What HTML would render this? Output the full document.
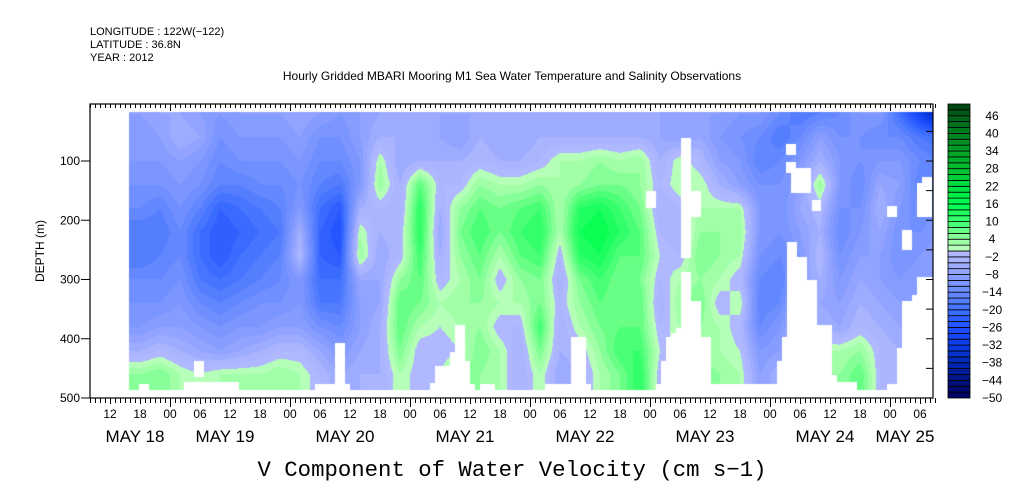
<!DOCTYPE html>
<html><head><meta charset="utf-8"><style>
body{margin:0;background:#fff;}
#wrap{position:relative;width:1009px;height:504px;overflow:hidden;font-family:"Liberation Sans",sans-serif;}
svg text{font-family:"Liberation Sans",sans-serif;}
</style></head><body>
<div id="wrap">
<canvas id="cv" width="1009" height="504" style="position:absolute;left:0;top:0"></canvas>
<svg id="sv" width="1009" height="504" style="position:absolute;left:0;top:0"></svg>
</div>
<script>
// time axis: hours since May 18 08:00
const colHours = [];
for (let i = 0; i < 41; i++) colHours.push(10 + 4 * i);
const rowDepths = [20,60,100,140,180,220,260,300,340,380,420,460];
// values per column (cm/s), listed by depth rows
const v00=[-8,-10,-10,-12,-14,-18,-18,-14,-12,-10,-4,4];
const v01=[-6,-8,-10,-12,-16,-18,-16,-14,-12,-8,-2,6];
const v02=[-6,-4,-8,-10,-12,-14,-14,-12,-10,-8,-4,2];
const v03=[-8,-6,-10,-12,-16,-20,-20,-18,-14,-10,-6,0];
const v04=[-10,-12,-14,-16,-22,-24,-24,-20,-16,-12,-8,2];
const v05=[-8,-10,-12,-16,-20,-22,-20,-18,-14,-10,-6,2];
const v06=[-8,-10,-12,-14,-18,-20,-18,-16,-12,-10,-4,2];
const v07=[-8,-10,-12,-14,-16,-18,-16,-14,-12,-8,-2,4];
const v08=[-6,-8,-10,-12,-10,-4,-2,-10,-10,-8,-2,2];
const v09=[-8,-12,-14,-16,-20,-22,-22,-20,-18,-12,-6,-2];
const v10=[-10,-12,-14,-18,-24,-26,-24,-20,-18,-14,-10,-6];
const v11=[-8,-8,-10,-10,-4,2,4,-6,-8,-8,-6,-4];
const v12=[-6,-4,2,4,-2,-4,-6,-6,-6,-4,-4,-4];
const v13=[-6,-4,-6,-4,-4,-2,-2,4,8,8,6,2];
const v14=[-4,-4,-4,8,12,12,10,8,6,2,-2,-2];
const v15=[-6,-6,-4,-2,-4,-6,-4,-2,2,0,-2,0];
const v16=[-6,-8,-4,-2,4,6,4,2,4,2,0,6];
const v17=[-6,-4,-2,4,8,10,8,6,4,4,6,4];
const v18=[-6,-6,-4,2,6,6,2,-2,2,-2,2,2];
const v19=[-4,-6,-4,2,8,10,8,4,2,-2,-4,-4];
const v20=[-6,-4,-2,4,10,12,10,6,6,10,6,2];
const v21=[-4,-4,2,2,2,2,-2,-4,-2,-4,-4,-6];
const v22=[-6,-4,2,4,12,14,12,6,4,2,-2,-4];
const v23=[-6,-4,4,6,14,16,14,10,8,6,4,2];
const v24=[-6,-4,2,6,10,12,8,6,6,8,10,6];
const v25=[-6,-4,4,4,6,8,8,6,8,8,10,12];
const v26=[-6,-6,-4,-2,-4,-2,0,-2,-4,-2,0,-2];
const v27=[-8,-8,2,2,-2,-4,-2,2,4,2,0,0];
const v28=[-8,-6,-2,2,2,4,6,4,6,4,2,6];
const v29=[-8,-10,-8,-4,2,4,4,2,-2,2,2,4];
const v30=[-10,-12,-10,-8,2,4,2,-2,2,-2,0,2];
const v31=[-10,-14,-16,-12,-10,-10,-12,-14,-16,-14,-10,-8];
const v32=[-14,-18,-14,-12,-12,-12,-14,-16,-14,-10,-8,-4];
const v33=[-18,-14,-10,-8,-6,-8,-10,-8,-4,-2,2,2];
const v34=[-16,-8,-4,4,-2,-4,-2,-4,-6,-4,2,4];
const v35=[-14,-12,-10,-10,-12,-14,-12,-10,-8,-6,2,4];
const v36=[-10,-12,-12,-14,-12,-10,-8,-6,-4,-2,4,8];
const v37=[-10,-14,-10,-6,-4,-6,-8,-8,-6,-4,-2,-2];
const v38=[-20,-14,-10,-8,-10,-12,-12,-10,-8,-6,-4,-4];
const v39=[-30,-18,-14,-16,-14,-12,-10,-8,-8,-8,-6,-6];
const v40=[-40,-20,-16,-14,-12,-10,-8,-8,-8,-8,-8,-8];
const values=[v00,v01,v02,v03,v04,v05,v06,v07,v08,v09,v10,v11,v12,v13,v14,v15,v16,v17,v18,v19,v20,v21,v22,v23,v24,v25,v26,v27,v28,v29,v30,v31,v32,v33,v34,v35,v36,v37,v38,v39,v40];
// missing data: [hourStart, hourEnd, depthTop, depthBottom]
const missing=[[9.8,11.8,476,500],[20.8,22.8,438,465],[18.8,29.8,473,500],[45,52,476,500],[49,51,407,500],
[68,69,475,500],[69,72,446,500],[72,73,422,500],[73,75,377,500],[75,76,438,500],[76,77,476,500],[78,81,476,500],
[91,96.2,476,500],[96.2,99.2,397,500],[99.2,100.2,476,500],[111.2,113.2,151,179],
[113.2,114.2,476,500],[114.2,115.2,438,500],[115.2,116.2,397,500],[116.2,117.2,390,500],[117.2,118.2,382,500],
[118.2,120.2,61,264],[118.2,120.2,288,500],[120.2,122.2,151,195],[120.2,122.2,336,500],[122.2,124.2,397,500],
[124.2,136.4,476,500],[136.4,137.4,476,500],[137.4,138.4,438,500],[138.4,139.4,397,500],[139.4,141.4,237,500],
[141.4,143.4,262,500],[143.4,145.4,301,500],[145.4,148.4,377,500],[148.4,149.4,461,500],[149.4,153.4,473,500],
[159.4,161.4,476,500],[161.4,162.4,416,500],[162.4,164.4,336,500],[164.4,165.4,326,500],[165.4,170,296,500],
[139.2,141.2,71,90],[139.2,141.2,102,120],[140.2,144.2,112,154],[144.4,146.2,166,184],[159.4,161.4,176,195],
[162.4,164.4,216,250],[165.4,167.4,137,195],[166.4,168.4,127,195]];
const dataStartHour=7.8, dataTopDepth=18, dataBottomDepth=486;
const cbLabels=[46,40,34,28,22,16,10,4,-2,-8,-14,-20,-26,-32,-38,-44,-50];
const yTicks=[100,200,300,400,500];
const hourLabels=["12","18","00","06","12","18","00","06","12","18","00","06","12","18","00","06","12","18","00","06","12","18","00","06","12","18","00","06","12","18","00","06","12","18","00","06","12","18","00","06","12","18","00","06"];
const dayNames=["MAY 18","MAY 19","MAY 20","MAY 21","MAY 22","MAY 23","MAY 24","MAY 25"];
const dayHours=[9,27,51,75,99,123,147,163];

const PL=90,PR=933,PT=104,PB=398;
const xOf=h=>PL+5*h;
const yOf=d=>101.75+0.5925*d;
const anchors=[[-50,[0,0,90]],[-44,[0,18,128]],[-38,[0,40,180]],[-32,[10,60,230]],[-26,[30,80,255]],[-20,[64,112,255]],[-14,[106,140,255]],[-8,[140,160,255]],[-2,[176,184,255]],[0,[176,184,255]],
[0.01,[192,255,192]],[4,[150,255,160]],[10,[60,255,110]],[16,[0,255,80]],[22,[0,224,64]],[28,[0,192,48]],[34,[0,160,40]],[40,[0,128,32]],[46,[0,96,24]],[50,[0,64,16]]];
function cmap(v){
  let lv=Math.floor((v+50)/2); lv=Math.max(0,Math.min(49,lv));
  const c=-50+lv*2+1;
  for(let i=0;i<anchors.length-1;i++){const a=anchors[i],b=anchors[i+1];
    if(c>=a[0]&&c<=b[0]){const t=(c-a[0])/(b[0]-a[0]);return a[1].map((x,k)=>Math.round(x+(b[1][k]-x)*t));}}
  return anchors[anchors.length-1][1];
}
function interp(h,d){
  let fi=(h-colHours[0])/(colHours[1]-colHours[0]);fi=Math.max(0,Math.min(colHours.length-1,fi));
  let fj=(d-rowDepths[0])/(rowDepths[1]-rowDepths[0]);fj=Math.max(0,Math.min(rowDepths.length-1,fj));
  const i0=Math.floor(fi),i1=Math.min(colHours.length-1,i0+1),j0=Math.floor(fj),j1=Math.min(rowDepths.length-1,j0+1);
  const ti=fi-i0,tj=fj-j0;
  const a=values[i0][j0]*(1-tj)+values[i0][j1]*tj, b=values[i1][j0]*(1-tj)+values[i1][j1]*tj;
  return a*(1-ti)+b*ti;
}
const cv=document.getElementById('cv'),ctx=cv.getContext('2d');
ctx.fillStyle='#fff';ctx.fillRect(0,0,1009,504);
const img=ctx.getImageData(0,0,1009,504);
for(let y=PT;y<PB;y++){const d=(y+0.5-101.75)/0.5925;
  if(d<dataTopDepth||d>dataBottomDepth)continue;
  for(let x=PL;x<PR;x++){const h=(x+0.5-PL)/5;
    if(h<dataStartHour)continue;
    let miss=false;for(const m of missing){if(h>=m[0]&&h<m[1]&&d>=m[2]&&d<m[3]){miss=true;break;}}
    if(miss)continue;
    const c=cmap(interp(h,d));const k=(y*1009+x)*4;
    img.data[k]=c[0];img.data[k+1]=c[1];img.data[k+2]=c[2];img.data[k+3]=255;}}
ctx.putImageData(img,0,0);

const NS='http://www.w3.org/2000/svg',sv=document.getElementById('sv');
function mk(tag,attrs,txt){const e=document.createElementNS(NS,tag);for(const k in attrs)e.setAttribute(k,attrs[k]);if(txt!==undefined)e.textContent=txt;sv.appendChild(e);return e;}
let e;
e=mk('rect',{x:PL,y:PT,width:PR-PL,height:PB-PT,fill:'none',stroke:'#000','stroke-width':1.2});


let tp='';
for(let h=0;h<=169;h++){const x=xOf(h)+0.5;const major=((h+8)%24===0);const six=((h+8)%6===0);
  tp+=`M${x},${PT}v${major?7:4}`;tp+=`M${x},${PB}v${major?9:(six?6:5)}`;}
for(let d=50;d<500;d+=50){const y=yOf(d);tp+=`M${PR},${y}h-7`;}
for(const d of yTicks){const y=yOf(d);tp+=`M${PL},${y}h-9`;}
e=mk('path',{d:tp,stroke:'#000','stroke-width':1,fill:'none'});


for(const d of yTicks){e=mk('text',{x:80,y:yOf(d)+4,'text-anchor':'end','font-size':12},String(d));

}
hourLabels.forEach((t,i)=>{const h=4+6*i;if(xOf(h)>PR)return;
  e=mk('text',{x:xOf(h),y:418,'text-anchor':'middle','font-size':12},t);
  
  });
dayNames.forEach((t,i)=>{e=mk('text',{x:xOf(dayHours[i]),y:442,'text-anchor':'middle','font-size':17},t);
  
  });
e=mk('text',{x:44,y:251,'text-anchor':'middle','font-size':12,transform:'rotate(-90 44 251)'},'DEPTH (m)');


e=mk('text',{x:512,y:476,'text-anchor':'middle','font-size':22,textLength:509,lengthAdjust:'spacingAndGlyphs',style:'font-family:"Liberation Mono",monospace'},'V Component of Water Velocity (cm s\u22121)');


e=mk('text',{x:512,y:80,'text-anchor':'middle','font-size':12},'Hourly Gridded MBARI Mooring M1 Sea Water Temperature and Salinity Observations');


['LONGITUDE : 122W(\u2212122)','LATITUDE : 36.8N','YEAR : 2012'].forEach((t,i)=>{
  e=mk('text',{x:90,y:35+i*13,'font-size':11},t);
  
  });
const CB0=104,CB1=398,cbh=(CB1-CB0)/50;
for(let i=0;i<50;i++){const c=cmap(-50+i*2+1);
  e=mk('rect',{x:948,y:CB1-(i+1)*cbh,width:22,height:cbh,fill:`rgb(${c[0]},${c[1]},${c[2]})`,stroke:'#000','stroke-width':0.8});
  
  }
cbLabels.forEach(v=>{const y=CB1-(v+50)/2*cbh;
  e=mk('text',{x:992,y:y+4,'text-anchor':'middle','font-size':12},v<0?'\u2212'+(-v):String(v));
  
  });
</script>
</body></html>
